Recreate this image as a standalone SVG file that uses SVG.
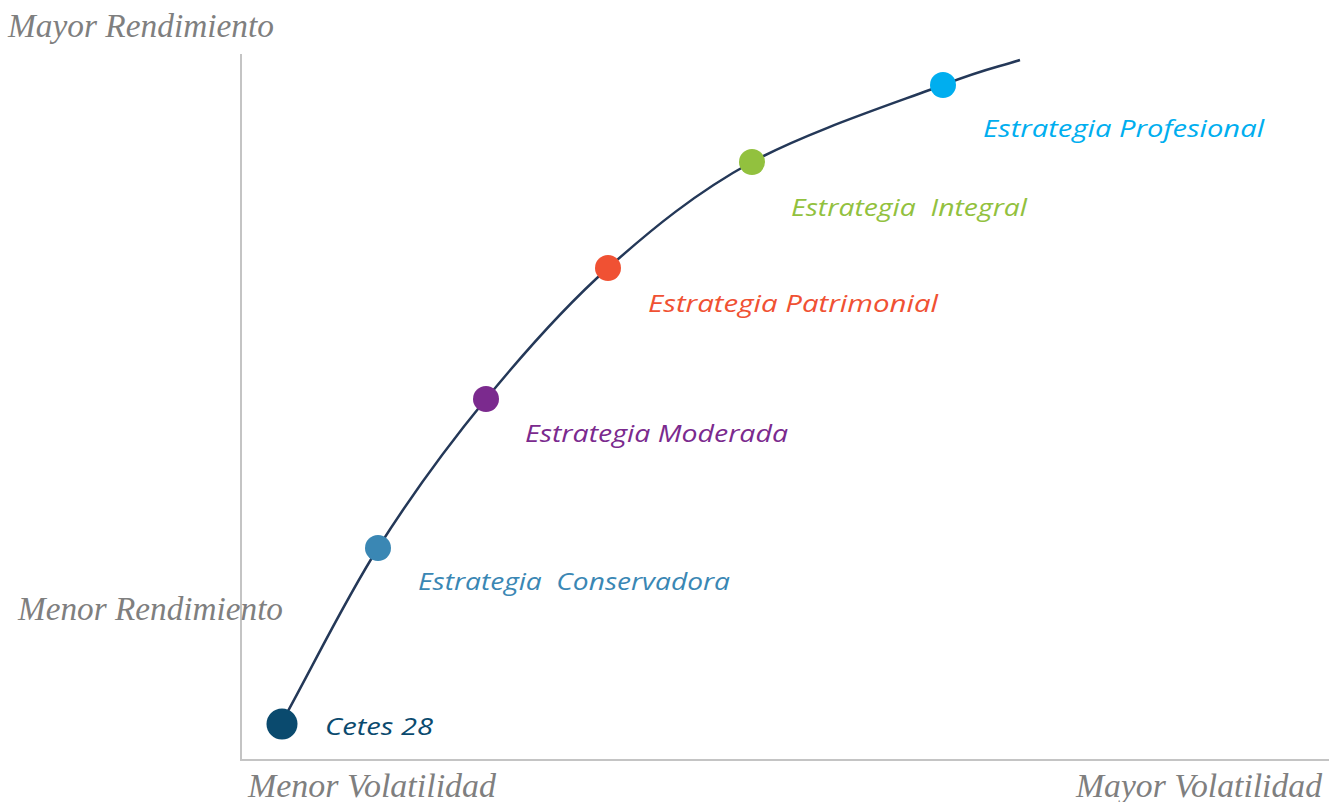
<svg xmlns="http://www.w3.org/2000/svg" width="1329" height="802" viewBox="0 0 1329 802">
<style>
.ax{font-family:"Liberation Serif","Times New Roman",serif;font-style:italic;font-size:33.5px;fill:#7f7f7f}
.lb{font-family:"Open Sans","Noto Sans",sans-serif;font-style:italic;font-size:24px}
.axis{stroke:#c4c4c4;stroke-width:2;fill:none}
.curve{stroke:#243858;stroke-width:2.5;fill:none}
</style>
<rect width="1329" height="802" fill="#ffffff"/>
<g id="axes">
<line class="axis" x1="241" y1="54" x2="241" y2="761"/>
<line class="axis" x1="240" y1="760" x2="1329" y2="760"/>
</g>
<g id="axis-labels">
<text class="ax" x="8" y="37" textLength="266" lengthAdjust="spacingAndGlyphs">Mayor Rendimiento</text>
<text class="ax" x="18" y="620" textLength="265" lengthAdjust="spacingAndGlyphs">Menor Rendimiento</text>
<text class="ax" x="248" y="797" textLength="248" lengthAdjust="spacingAndGlyphs">Menor Volatilidad</text>
<text class="ax" x="1076" y="797" textLength="246" lengthAdjust="spacingAndGlyphs">Mayor Volatilidad</text>
</g>
<g id="connectors">
<path class="curve" d="M282,722 C314,664 344,601.8 378,548 C412,494.2 447.7,445.7 486,399 C524.3,352.3 563.7,307.5 608,268 C652.3,228.5 696.2,192.5 752,162 C807.8,131.5 898.3,102 943,85 C987.7,68 994.3,68.3 1020,60"/>
</g>
<g id="cetes">
<circle cx="282" cy="724" r="15.5" fill="#0a4a6e"/>
<text class="lb" x="325" y="735" fill="#0a4a6e" textLength="108" lengthAdjust="spacingAndGlyphs">Cetes 28</text>
</g>
<g id="conservadora">
<circle cx="378" cy="548" r="13" fill="#3a87b4"/>
<text class="lb" x="418" y="590" fill="#3a87b4" textLength="312" lengthAdjust="spacingAndGlyphs" xml:space="preserve">Estrategia  Conservadora</text>
</g>
<g id="moderada">
<circle cx="486" cy="399" r="13" fill="#7b2a8e"/>
<text class="lb" x="525" y="442" fill="#7b2a8e" textLength="263" lengthAdjust="spacingAndGlyphs">Estrategia Moderada</text>
</g>
<g id="patrimonial">
<circle cx="608" cy="268" r="13" fill="#f05133"/>
<text class="lb" x="648" y="312" fill="#f05133" textLength="290" lengthAdjust="spacingAndGlyphs">Estrategia Patrimonial</text>
</g>
<g id="integral">
<circle cx="752" cy="162" r="13" fill="#92c13e"/>
<text class="lb" x="791" y="216" fill="#92c13e" textLength="236" lengthAdjust="spacingAndGlyphs" xml:space="preserve">Estrategia  Integral</text>
</g>
<g id="profesional">
<circle cx="943" cy="85" r="13" fill="#00aeef"/>
<text class="lb" x="983" y="137" fill="#00aeef" textLength="281" lengthAdjust="spacingAndGlyphs">Estrategia Profesional</text>
</g>
</svg>
